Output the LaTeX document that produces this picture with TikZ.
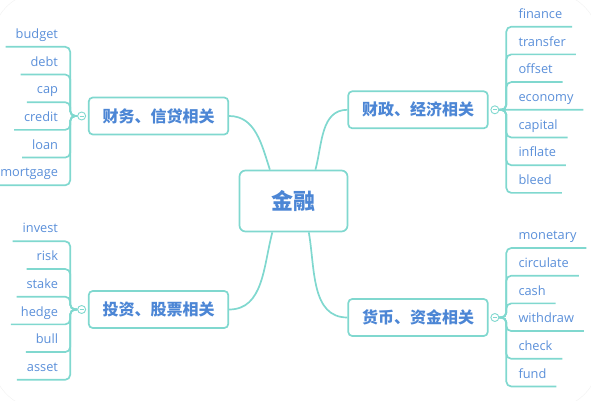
\documentclass[tikz,border=0pt]{standalone}
\usepackage{fontspec}
\setmainfont{Open Sans}
\newfontfamily\cjk{Noto Sans CJK SC}
\usetikzlibrary{positioning}
\definecolor{mint}{HTML}{80D8CF}
\definecolor{ink}{HTML}{4C86D5}
\definecolor{leafink}{HTML}{5A8FD9}
\tikzset{
  core/.style={draw=mint, fill=white, line width=1.7pt, rounded corners=6pt, minimum width=108pt, minimum height=61pt, font=\cjk\bfseries\fontsize{22}{26}\selectfont, text=ink},
  branch/.style={draw=mint, fill=white, line width=1.7pt, rounded corners=4pt, minimum width=139.5pt, minimum height=37pt, font=\cjk\bfseries\fontsize{16}{19}\selectfont, text=ink},
  leaf/.style={font=\fontsize{12.8}{15}\selectfont, text=leafink, inner xsep=10pt, inner ysep=5.3pt, text height=9pt, text depth=3pt, outer sep=0pt},
  fold/.style={circle, draw=mint, fill=white, line width=0.9pt, minimum size=8pt, inner sep=0pt,
    path picture={\draw[mint, line width=0.6pt] ([xshift=-2pt]path picture bounding box.center) -- ([xshift=2pt]path picture bounding box.center);}},
  limb/.style={mint, line width=1.7pt},
  twig/.style={mint, line width=1.7pt, rounded corners=5pt},
}

\begin{document}
\begin{tikzpicture}[x=1pt, y=1pt]
  \useasboundingbox (0,0) rectangle (591,401);
  \draw[black!6, rounded corners=50pt] (-8,-8) rectangle (599,409);

  \node[core] (core) at (293.5,200) {金融};
  \node[branch] (fin) at (158.5,285) {财务、信贷相关};
  \node[branch] (fis) at (418,291.2) {财政、经济相关};
  \node[branch] (inv) at (158.5,91.5) {投资、股票相关};
  \node[branch] (cur) at (418,83.5) {货币、资金相关};

  \node[fold, left=1.8pt of fin] (foldfin) {};
  \node[fold, right=1.8pt of fis] (foldfis) {};
  \node[fold, left=1.8pt of inv] (foldinv) {};
  \node[fold, right=1.8pt of cur] (foldcur) {};

  % core to branches
  \draw[limb] (core.127) to[out=108, in=0] (fin.east);
  \draw[limb] (core.55) to[out=75, in=180] (fis.west);
  \draw[limb] (core.236) to[out=-105, in=0] (inv.east);
  \draw[limb] (core.296) to[out=-80, in=180] (cur.west);

  % leaves
  \foreach \w [count=\i] in {budget,debt,cap,credit,loan,mortgage}
    \node[leaf, anchor=south east] (\w) at (68,{354.2-27.7*(\i-1)}) {\w};
  \foreach \w [count=\i] in {finance,transfer,offset,economy,capital,inflate,bleed}
    \node[leaf, anchor=south west] (\w) at (508.5,{374.3-27.7*(\i-1)}) {\w};
  \foreach \w [count=\i] in {invest,risk,stake,hedge,bull,asset}
    \node[leaf, anchor=south east] (\w) at (68,{159.7-27.7*(\i-1)}) {\w};
  \foreach \w [count=\i] in {monetary,circulate,cash,withdraw,check,fund}
    \node[leaf, anchor=south west] (\w) at (508.5,{153-27.7*(\i-1)}) {\w};

  \foreach \w in {budget,debt,cap,credit,loan,mortgage}
    \draw[twig] (foldfin.west) -- ++(-7,0) |- (\w.south west);
  \foreach \w in {finance,transfer,offset,capital,inflate,bleed}
    \draw[twig] (foldfis.east) -- ++(7,0) |- (\w.south east);
  \draw[twig] (foldfis.east) -- (economy.south east);
  \foreach \w in {invest,risk,stake,hedge,bull,asset}
    \draw[twig] (foldinv.west) -- ++(-7,0) |- (\w.south west);
  \foreach \w in {monetary,circulate,cash,withdraw,check,fund}
    \draw[twig] (foldcur.east) -- ++(7,0) |- (\w.south east);
\end{tikzpicture}
\end{document}
